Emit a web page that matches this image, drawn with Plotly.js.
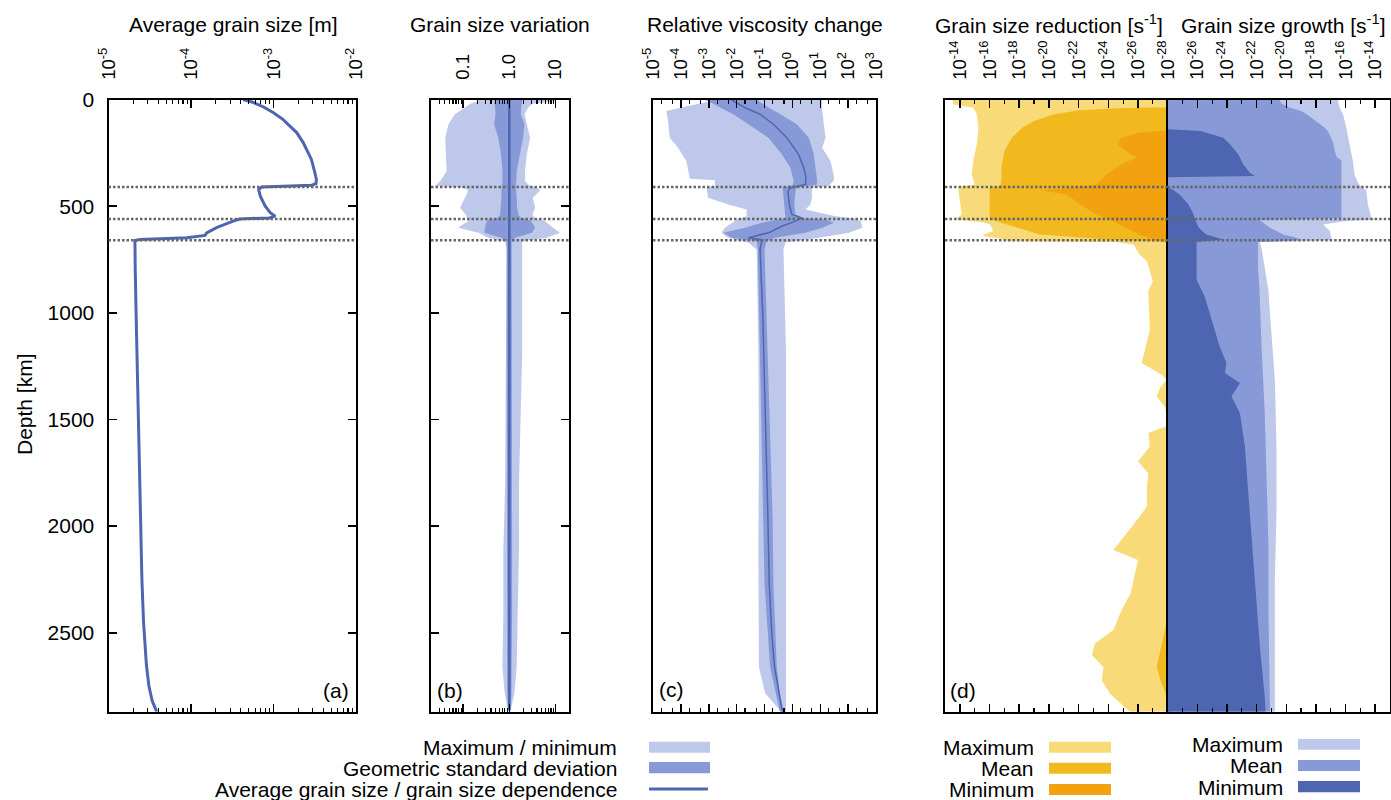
<!DOCTYPE html>
<html><head><meta charset="utf-8">
<script src="https://cdn.plot.ly/plotly-3.0.1.min.js"></script>
<style>html,body{margin:0;padding:0;background:#fff}</style>
</head><body>
<div id="chart" style="width:1391px;height:800px"></div>
<script>
// ---------------- DATA ----------------
// (a) average grain size [m]
const grainDepth = [0, 13, 35, 62, 93, 155, 202, 281, 340, 375, 395, 402, 410, 422, 453, 500, 531, 547, 555, 560, 570, 601, 625, 637, 648, 656, 661, 700, 800, 1000, 1500, 2000, 2250, 2450, 2550, 2650, 2750, 2820, 2870];
const grainSize = [4.27e-4, 5.62e-4, 7.59e-4, 1.0e-3, 1.30e-3, 1.91e-3, 2.29e-3, 2.88e-3, 3.16e-3, 3.31e-3, 3.27e-3, 2.9e-3, 7.2e-4, 6.61e-4, 6.92e-4, 7.94e-4, 9.12e-4, 1.05e-3, 8.91e-4, 3.89e-4, 3.24e-4, 2.04e-4, 1.55e-4, 1.48e-4, 8.91e-5, 2.40e-5, 2.09e-5, 2.09e-5, 2.11e-5, 2.16e-5, 2.29e-5, 2.43e-5, 2.54e-5, 2.66e-5, 2.75e-5, 2.88e-5, 3.09e-5, 3.39e-5, 3.84e-5];

// (b) grain size variation (log10 of ratio)
const varDepth   = [0, 9, 20, 38, 69, 116, 179, 257, 336, 383, 405, 412, 425, 461, 508, 539, 556, 564, 570, 601, 625, 648, 664, 703, 1173, 1486, 1799, 2112, 2425, 2660, 2783, 2863];
const varMinLog  = [-0.65, -0.71, -0.85, -0.96, -1.18, -1.32, -1.39, -1.38, -1.36, -1.50, -1.61, -1.0, -0.89, -0.96, -1.07, -0.95, -0.92, -0.90, -0.89, -1.11, -0.67, -0.46, -0.09, -0.06, -0.07, -0.075, -0.09, -0.13, -0.13, -0.15, -0.10, -0.03];
const varMaxLog  = [0.99, 0.99, 0.50, 0.41, 0.33, 0.38, 0.45, 0.38, 0.34, 0.34, 0.45, 0.60, 0.67, 0.51, 0.56, 0.50, 0.55, 0.70, 0.77, 0.95, 1.10, 0.81, 0.27, 0.28, 0.28, 0.25, 0.21, 0.21, 0.18, 0.16, 0.11, 0.03];
const varStdLoLog = [-0.33, -0.33, -0.32, -0.31, -0.30, -0.33, -0.24, -0.18, -0.15, -0.15, -0.165, -0.17, -0.17, -0.17, -0.18, -0.20, -0.25, -0.45, -0.49, -0.53, -0.54, -0.17, -0.06, -0.056, -0.056, -0.055, -0.055, -0.055, -0.055, -0.05, -0.045, -0.03];
const varStdHiLog = [0.28, 0.28, 0.27, 0.26, 0.25, 0.33, 0.30, 0.23, 0.16, 0.15, 0.14, 0.14, 0.15, 0.16, 0.17, 0.20, 0.25, 0.42, 0.47, 0.56, 0.49, 0.12, 0.05, 0.06, 0.06, 0.06, 0.06, 0.06, 0.06, 0.055, 0.045, 0.03];
const varMean    = [1.0, 1.0, 1.0, 1.0, 1.0, 1.0, 1.0, 1.0, 1.0, 1.0, 1.0, 1.0, 1.0, 1.0, 1.0, 1.0, 1.0, 1.0, 1.0, 1.0, 1.0, 1.0, 1.0, 1.0, 1.0, 1.0, 1.0, 1.0, 1.0, 1.0, 1.0, 1.0];

// (c) relative viscosity change (log10)
const viscMeanDepth = [0, 7, 38, 69, 116, 179, 257, 320, 367, 398, 414, 430, 492, 539, 555, 570, 594, 625, 648, 656, 664, 703, 1016, 1329, 1642, 1955, 2268, 2503, 2660, 2769, 2870];
const viscMeanLog   = [-2.2, -2.12, -1.70, -1.16, -0.68, -0.20, 0.22, 0.41, 0.49, 0.47, -0.07, -0.16, -0.11, -0.02, 0.34, 0.11, -0.38, -0.86, -1.58, -1.15, -1.10, -1.16, -1.06, -1.00, -0.92, -0.88, -0.83, -0.74, -0.64, -0.50, -0.36];
const viscStdDepth = [0, 7, 38, 69, 116, 179, 257, 320, 383, 400, 412, 430, 492, 539, 556, 562, 578, 601, 625, 648, 664, 703, 1329, 1955, 2268, 2660, 2785, 2870];
const viscStdLoLog = [-3.2, -3.02, -2.60, -2.12, -1.58, -0.86, -0.38, -0.07, 0.05, 0.02, -0.35, -0.34, -0.31, -0.26, -0.24, -0.50, -1.10, -1.70, -2.48, -2.18, -1.28, -1.24, -1.15, -1.05, -1.00, -0.80, -0.60, -0.45];
const viscStdHiLog = [-1.3, -1.22, -0.86, -0.43, 0.16, 0.59, 0.77, 0.83, 0.89, 0.87, 0.15, 0.11, 0.07, 0.11, 0.40, 1.19, 1.49, 1.07, 0.47, -0.61, -0.92, -1.00, -0.86, -0.71, -0.68, -0.56, -0.45, -0.30];
const viscBandDepth = [0, 7, 30, 54, 101, 179, 226, 289, 359, 372, 378, 405, 414, 461, 492, 516, 547, 558, 570, 601, 625, 648, 670, 703, 1173, 1642, 2112, 2425, 2660, 2783, 2870];
const viscMinLog = [-2.6, -2.90, -3.74, -4.52, -4.46, -4.40, -4.10, -3.80, -3.68, -3.68, -2.78, -2.78, -3.08, -3.02, -2.30, -1.64, -1.64, -1.90, -2.06, -2.42, -2.54, -2.30, -1.58, -1.28, -1.22, -1.20, -1.22, -1.20, -1.20, -0.98, -0.40];
const viscMaxLog = [1.07, 1.07, 1.05, 1.07, 1.13, 1.19, 1.07, 1.37, 1.49, 1.49, 1.49, 1.30, 0.70, 0.70, 0.65, 0.47, 1.55, 2.20, 2.45, 2.51, 2.03, 0.95, -0.25, -0.32, -0.23, -0.23, -0.25, -0.25, -0.23, -0.23, -0.23];

// (d) grain size reduction / growth rates [1/s] (log10)
const redMaxDepth = [0, 23, 38, 69, 132, 210, 289, 351, 398, 408, 425, 476, 539, 556, 562, 575, 586, 617, 633, 641, 655, 664, 668, 680, 727, 758, 852, 899, 923, 1079, 1235, 1290, 1314, 1350, 1392, 1440, 1470, 1500, 1530, 1564, 1627, 1697, 1752, 1815, 1908, 2002, 2112, 2159, 2253, 2315, 2393, 2487, 2550, 2605, 2660, 2722, 2785, 2870];
const redMaxLog = [-13.5, -13.57, -14.9, -15.14, -15.25, -15.14, -14.9, -14.8, -15.0, -14.0, -13.9, -14.0, -14.13, -13.8, -13.8, -15.5, -16.04, -16.26, -15.6, -15.6, -17.0, -17.2, -24.5, -25.7, -26.1, -26.6, -27.0, -26.7, -26.7, -26.8, -26.25, -27.6, -27.93, -27.5, -27.26, -27.8, -27.93, -28, -28, -26.7, -26.8, -26.0, -26.7, -26.6, -26.6, -25.6, -24.34, -26.0, -25.7, -25.5, -24.9, -24.34, -23.1, -22.9, -23.67, -23.56, -24.1, -25.46];
const redMeanDepth = [0, 36, 40, 50, 70, 101, 132, 179, 242, 320, 383, 405, 415, 425, 492, 555, 570, 601, 633, 656, 668, 2430, 2550, 2660, 2720, 2790, 2870];
const redMeanLog = [-28, -28, -25, -22, -20.3, -19.0, -18.2, -17.5, -17.0, -16.8, -16.8, -16.7, -16.0, -16.0, -16.0, -16.0, -16.4, -17.8, -19.4, -23.9, -28, -28, -27.6, -27.26, -27.5, -27.9, -28];
const redMinDepth = [0, 145, 150, 155, 179, 210, 242, 273, 304, 351, 398, 410, 425, 445, 492, 539, 570, 601, 633, 656, 672, 2870];
const redMinLog = [-28, -28, -27, -26.1, -24.9, -24.6, -25.2, -25.9, -24.9, -23.9, -23.2, -22.0, -19.4, -21.2, -22.1, -23.2, -24.3, -25.2, -26.1, -27.0, -28, -28];

const growMaxDepth = [0, 8, 38, 69, 132, 210, 289, 351, 390, 405, 425, 492, 556, 562, 570, 586, 617, 648, 660, 668, 695, 789, 899, 1001, 1314, 1627, 1940, 2253, 2566, 2848, 2870];
const growMaxLog = [-16.5, -16.5, -16.4, -16.17, -15.95, -15.72, -15.5, -15.4, -15.16, -15.0, -14.6, -14.49, -14.26, -13.93, -16.0, -17.5, -17.06, -16.96, -17.0, -21.8, -21.67, -21.45, -21.2, -21.1, -20.77, -20.66, -20.66, -20.77, -20.77, -20.77, -20.77];
const growMeanDepth = [0, 20, 38, 54, 70, 100, 132, 150, 200, 240, 270, 285, 370, 556, 565, 601, 633, 648, 660, 668, 695, 789, 899, 1157, 1470, 1783, 2096, 2409, 2722, 2870];
const growMeanLog = [-20.5, -20.3, -19.8, -19.0, -18.6, -18.0, -17.4, -17.18, -16.84, -16.73, -16.6, -16.28, -16.28, -16.28, -21.8, -21.1, -20.2, -19.3, -19.0, -21.9, -21.9, -21.9, -21.8, -21.67, -21.45, -21.33, -21.2, -21.2, -21.1, -21.1];
const growMinDepth = [0, 140, 148, 179, 210, 257, 304, 343, 359, 365, 410, 425, 445, 492, 531, 562, 601, 633, 656, 668, 711, 789, 845, 923, 1001, 1157, 1235, 1282, 1329, 1392, 1470, 1627, 1940, 2253, 2566, 2801, 2870];
const growMinLog = [-28, -28, -25.8, -24.25, -23.8, -23.24, -22.9, -22.46, -22.1, -28, -28, -27.6, -27.2, -26.6, -26.3, -26.16, -25.9, -25.4, -24.25, -26.05, -26.05, -26.05, -26.05, -25.5, -25.15, -24.5, -24.04, -24.14, -23.13, -23.7, -23.13, -22.79, -22.46, -22.12, -21.78, -21.45, -21.4];

// discontinuity depths [km]
const discontinuities = [410, 560, 660];

// tick labels
const tickA = [1e-5, 1e-4, 1e-3, 1e-2];
const tickAText = ['10<sup>-5</sup>', '10<sup>-4</sup>', '10<sup>-3</sup>', '10<sup>-2</sup>'];
const tickB = [0.1, 1, 10];
const tickBText = ['0.1', '1.0', '10'];
const tickCExp = [-5, -4, -3, -2, -1, 0, 1, 2, 3];
const tickDLeftExp = [-14, -16, -18, -20, -22, -24, -26, -28];
const tickDRightExp = [-26, -24, -22, -20, -18, -16, -14];
const depthTicks = [0, 500, 1000, 1500, 2000, 2500];

// ---------------- STYLE / LAYOUT ----------------
const W = 1391, H = 800;
const px = x => x / W;
const py = y => 1 - y / H;
const p10 = a => a.map(v => Math.pow(10, v));
const rev = a => a.slice().reverse();

const C_LIGHT = '#bec8eb', C_MED = '#8799d7', C_DARK = '#4e66b1';
const Y_LIGHT = '#f8da78', Y_MED = '#f2b91f', Y_DARK = '#f2a20f';
const FONT = 'Liberation Sans, Arial, Helvetica, sans-serif';

const yDom = [py(711.7), py(99.5)];
const DEPTH_MAX = 2870;
const BASE = 1e-28;

function minorVals(e0, e1, mult) {
  const out = [];
  for (let e = e0; e < e1; e++) for (const m of mult) out.push(m * Math.pow(10, e));
  return out;
}
function expText(e) { return '10<sup>' + e + '</sup>'; }

function xAxis(dom, range, tv, tt, minor, anchor) {
  return {
    type: 'log', domain: dom, range: range, side: 'top', anchor: anchor,
    tickmode: 'array', tickvals: tv, ticktext: tt, tickangle: -90,
    ticks: 'inside', ticklen: 8, tickwidth: 1.5, tickcolor: '#000',
    ticklabelstandoff: 14,
    minor: {ticks: 'inside', ticklen: 4, tickwidth: 1.2, tickcolor: '#000', tickmode: 'array', tickvals: minor, showgrid: false},
    mirror: 'allticks', showline: true, linewidth: 2, linecolor: '#000',
    showgrid: false, zeroline: false, fixedrange: true,
    tickfont: {family: FONT, size: 18.5, color: '#000'}
  };
}
function yAxis(anchor, showTicks, showLabels) {
  return {
    domain: yDom, range: [DEPTH_MAX, 0], anchor: anchor,
    tickmode: 'array', tickvals: depthTicks,
    ticks: showTicks ? 'inside' : '', ticklen: 8, tickwidth: 1.5, tickcolor: '#000',
    showticklabels: showLabels, ticklabelstandoff: 8,
    mirror: showTicks ? 'allticks' : true, showline: true, linewidth: 2, linecolor: '#000',
    showgrid: false, zeroline: false, fixedrange: true,
    tickfont: {family: FONT, size: 21, color: '#000'}
  };
}

const traces = [];
function band(lo, hi, depth, color, xa, ya) {
  traces.push({type: 'scatter', mode: 'lines', x: lo.concat(rev(hi)), y: depth.concat(rev(depth)),
    fill: 'toself', fillcolor: color, line: {width: 0, color: color}, xaxis: xa, yaxis: ya, hoverinfo: 'skip'});
}
function fromBase(vals, depth, color, xa, ya) {
  traces.push({type: 'scatter', mode: 'lines', x: vals.concat([BASE, BASE]), y: depth.concat([depth[depth.length - 1], depth[0]]),
    fill: 'toself', fillcolor: color, line: {width: 0, color: color}, xaxis: xa, yaxis: ya, hoverinfo: 'skip'});
}

// (a)
traces.push({type: 'scatter', mode: 'lines', x: grainSize, y: grainDepth, xaxis: 'x', yaxis: 'y',
  line: {color: C_DARK, width: 3}, hoverinfo: 'skip'});
// (b)
band(p10(varMinLog), p10(varMaxLog), varDepth, C_LIGHT, 'x2', 'y2');
band(p10(varStdLoLog), p10(varStdHiLog), varDepth, C_MED, 'x2', 'y2');
traces.push({type: 'scatter', mode: 'lines', x: varMean, y: varDepth, xaxis: 'x2', yaxis: 'y2',
  line: {color: C_DARK, width: 2.5}, hoverinfo: 'skip'});
// (c)
band(p10(viscMinLog), p10(viscMaxLog), viscBandDepth, C_LIGHT, 'x3', 'y3');
band(p10(viscStdLoLog), p10(viscStdHiLog), viscStdDepth, C_MED, 'x3', 'y3');
traces.push({type: 'scatter', mode: 'lines', x: p10(viscMeanLog), y: viscMeanDepth, xaxis: 'x3', yaxis: 'y3',
  line: {color: C_DARK, width: 1.5}, hoverinfo: 'skip'});
// (d) reduction (left) and growth (right)
fromBase(p10(redMaxLog), redMaxDepth, Y_LIGHT, 'x4', 'y4');
fromBase(p10(redMeanLog), redMeanDepth, Y_MED, 'x4', 'y4');
fromBase(p10(redMinLog), redMinDepth, Y_DARK, 'x4', 'y4');
fromBase(p10(growMaxLog), growMaxDepth, C_LIGHT, 'x5', 'y5');
fromBase(p10(growMeanLog), growMeanDepth, C_MED, 'x5', 'y5');
fromBase(p10(growMinLog), growMinDepth, C_DARK, 'x5', 'y5');

const shapes = [];
[['x', 'y'], ['x2', 'y2'], ['x3', 'y3'], ['x4', 'y4'], ['x5', 'y5']].forEach(([xa, ya]) => {
  discontinuities.forEach(d => shapes.push({type: 'line', xref: xa + ' domain', yref: ya, x0: 0, x1: 1, y0: d, y1: d,
    line: {color: '#666666', width: 2.5, dash: '2.5px,2px'}, layer: 'above'}));
});

// legend patches
function rect(x0, x1, y0, y1, c) { shapes.push({type: 'rect', xref: 'paper', yref: 'paper', x0: px(x0), x1: px(x1), y0: py(y1), y1: py(y0), fillcolor: c, line: {width: 0}}); }
rect(649, 710, 741.7, 752.7, C_LIGHT);
rect(649, 710, 762, 773.3, C_MED);
shapes.push({type: 'line', xref: 'paper', yref: 'paper', x0: px(649), x1: px(708), y0: py(789), y1: py(789), line: {color: C_DARK, width: 3}});
rect(1049, 1111, 741.7, 752.7, Y_LIGHT);
rect(1049, 1111, 762.7, 773.7, Y_MED);
rect(1049, 1111, 784, 795, Y_DARK);
rect(1298, 1360, 739, 749.7, C_LIGHT);
rect(1298, 1360, 760, 771, C_MED);
rect(1298, 1360, 781, 792.3, C_DARK);

const annotations = [];
function txt(t, x, y, xanchor, size, angle) {
  annotations.push({text: t, x: px(x), y: py(y), xref: 'paper', yref: 'paper', xanchor: xanchor || 'center', yanchor: 'middle',
    showarrow: false, textangle: angle || 0, font: {family: FONT, size: size || 21, color: '#000'}});
}
txt('Average grain size [m]', 233, 24);
txt('Grain size variation', 500, 24);
txt('Relative viscosity change', 764.5, 24);
txt('Grain size reduction [s<sup>-1</sup>]', 1049, 24);
txt('Grain size growth [s<sup>-1</sup>]', 1283, 24);
txt('Depth [km]', 24, 404, 'center', 21, -90);
txt('(a)', 336, 690);
txt('(b)', 450, 690);
txt('(c)', 671.5, 689);
txt('(d)', 963, 690);
txt('Maximum / minimum', 618.5, 747, 'right');
txt('Geometric standard deviation', 618.5, 768, 'right');
txt('Average grain size / grain size dependence', 618.5, 789, 'right');
txt('Maximum', 1036, 747, 'right');
txt('Mean', 1036, 768, 'right');
txt('Minimum', 1036, 789, 'right');
txt('Maximum', 1285, 744, 'right');
txt('Mean', 1285, 765, 'right');
txt('Minimum', 1285, 787, 'right');

const layout = {
  width: W, height: H, margin: {l: 0, r: 0, t: 0, b: 0},
  paper_bgcolor: '#fff', plot_bgcolor: 'rgba(0,0,0,0)', showlegend: false,
  font: {family: FONT, size: 21, color: '#000'},
  xaxis: xAxis([px(108.5), px(356)], [-5, -2], tickA, tickAText, minorVals(-5, -2, [2,3,4,5,6,7,8,9]), 'y'),
  xaxis2: xAxis([px(431), px(569.3)], [Math.log10(0.02), Math.log10(20)], tickB, tickBText, minorVals(-2, 2, [2,3,4,5,6,7,8,9]), 'y2'),
  xaxis3: xAxis([px(653), px(876)], [-5, 3], p10(tickCExp), tickCExp.map(expText), minorVals(-5, 3, [2, 5]), 'y3'),
  xaxis4: xAxis([px(945), px(1167.7)], [-13, -28], p10(tickDLeftExp), tickDLeftExp.map(expText), p10([-13, -15, -17, -19, -21, -23, -25, -27]), 'y4'),
  xaxis5: xAxis([px(1167.7), px(1390)], [-28, -13], p10(tickDRightExp), tickDRightExp.map(expText), p10([-13, -15, -17, -19, -21, -23, -25, -27]), 'y5'),
  yaxis: yAxis('x', true, true),
  yaxis2: yAxis('x2', true, false),
  yaxis3: yAxis('x3', false, false),
  yaxis4: yAxis('x4', false, false),
  yaxis5: yAxis('x5', false, false),
  shapes: shapes, annotations: annotations
};

Plotly.newPlot('chart', traces, layout, {displayModeBar: false, staticPlot: true});
</script>
</body></html>
